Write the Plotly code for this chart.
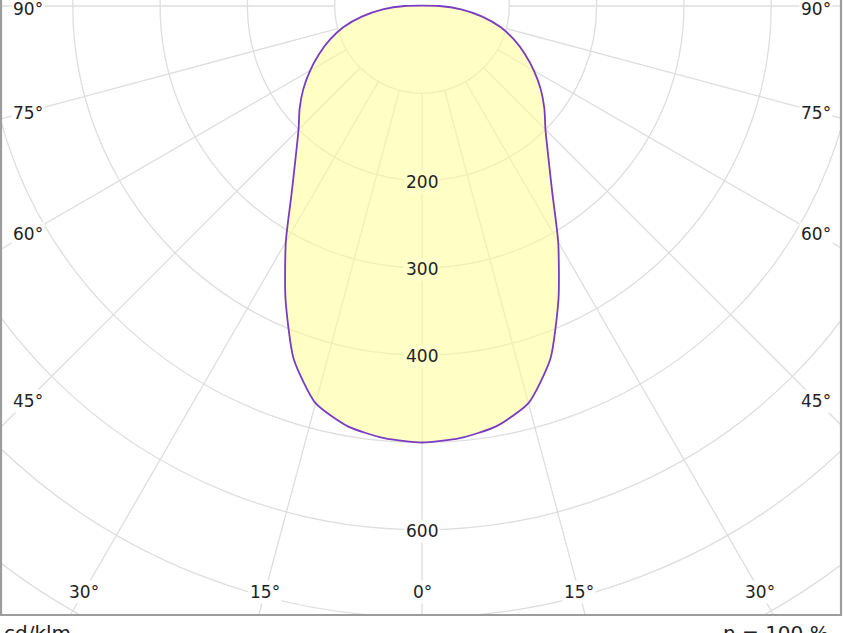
import numpy as np
import plotly.graph_objects as go

# ---------------- data ----------------
angles = [0, 5, 10, 15, 20, 25, 30, 35, 40, 45, 50, 55, 60, 65, 70, 75, 80, 85, 90]
intensity = [500, 497, 489, 471, 430, 370, 312, 260, 225, 200, 183, 166, 148, 130, 112, 93, 70, 45, 20]

ring_values = [100, 200, 300, 400, 500, 600, 700, 800, 900]
ring_labels = [200, 300, 400, 600]
spoke_angles = [0, 15, 30, 45, 60, 75, 90]
side_tick_angles = [45, 60, 75, 90]
bottom_tick_angles = [0, 15, 30]
unit_label = "cd/klm"
eff_label = "η = 100 %"

# ---------------- layout geometry ----------------
W, H = 844, 633
ML, MR, MT, MB = 0, 2, 0, 17
pw, ph = W - ML - MR, H - MT - MB
cx_px, cy_px = 422, 6          # polar centre in plot-area pixels
s = 0.873                      # pixels per cd/klm
xr = [(0 - cx_px) / s, (pw - cx_px) / s]
yr = [-(ph - cy_px) / s, cy_px / s]

grid_col = "#dedede"
fill_col = "rgba(255,255,150,0.55)"
label_bg_in = "rgb(255,255,202)"
curve_col = "#7a3cc2"
txt_col = "#222222"
font_fam = "DejaVu Sans"

# ---------------- curve ----------------
th = np.array([-a for a in angles[::-1]] + angles[1:], dtype=float)
ii = np.array(intensity[::-1] + intensity[1:], dtype=float)
th = np.append(th, th[0])
ii = np.append(ii, ii[0])
xs = ii * np.sin(np.radians(th))
ys = -ii * np.cos(np.radians(th))

fig = go.Figure()
fig.add_trace(go.Scatter(x=xs, y=ys, mode="lines", fill="toself",
                         fillcolor=fill_col,
                         line=dict(color=curve_col, width=1.8, shape="spline", smoothing=0.6),
                         hoverinfo="skip", showlegend=False))

shapes = []
# rings
for r in ring_values:
    shapes.append(dict(type="circle", xref="x", yref="y", x0=-r, x1=r, y0=-r, y1=r,
                       line=dict(color=grid_col, width=1.3), layer="below"))
# spokes
r0, r1 = ring_values[0], 2000
for a in spoke_angles:
    for sgn in ([1] if a == 0 else [-1, 1]):
        t = np.radians(sgn * a)
        shapes.append(dict(type="line", xref="x", yref="y",
                           x0=r0 * np.sin(t), y0=-r0 * np.cos(t),
                           x1=r1 * np.sin(t), y1=-r1 * np.cos(t),
                           line=dict(color=grid_col, width=1.3), layer="below"))
# frame
fc = "#9c9c9c"
shapes.append(dict(type="line", xref="paper", yref="paper", x0=1 / pw, x1=1 / pw, y0=1.05, y1=1 - 615 / ph,
                   line=dict(color=fc, width=2.2)))
shapes.append(dict(type="line", xref="paper", yref="paper", x0=841 / pw, x1=841 / pw, y0=1.05, y1=1 - 615 / ph,
                   line=dict(color=fc, width=2.2)))
shapes.append(dict(type="line", xref="paper", yref="paper", x0=0, x1=842 / pw, y0=1 - 615 / ph, y1=1 - 615 / ph,
                   line=dict(color=fc, width=2.2)))

annotations = []
lab_font = dict(family=font_fam, size=17, color=txt_col)
# ring value labels
for v in ring_labels:
    inside = v < intensity[0]
    annotations.append(dict(x=0, y=-v, xref="x", yref="y", text=str(v), showarrow=False,
                            font=lab_font, yshift=-1,
                            bgcolor=label_bg_in if inside else "white", borderpad=1))
# side angle labels (centred on their spokes at a fixed distance from the edges)
left_x = (28 - cx_px) / s
right_x = (816 - cx_px) / s
for a in side_tick_angles:
    yv = 0.0 if a == 90 else -abs(left_x) / np.tan(np.radians(a))
    for xv in (left_x, right_x):
        annotations.append(dict(x=xv, y=yv, xref="x", yref="y", text=f"{a}°", showarrow=False,
                                font=lab_font, yshift=-3 if a == 90 else -1,
                                bgcolor="white", borderpad=1))
# bottom angle labels
bot_y = -(592 - cy_px) / s
for a in bottom_tick_angles:
    for sgn in ([1] if a == 0 else [-1, 1]):
        annotations.append(dict(x=sgn * abs(bot_y) * np.tan(np.radians(a)), y=bot_y,
                                xref="x", yref="y", text=f"{a}°", showarrow=False,
                                font=lab_font, bgcolor="white", borderpad=1))
# captions under the frame
cap_font = dict(family=font_fam, size=20, color=txt_col)
annotations.append(dict(x=2 / pw, y=1 - 619 / ph, xref="paper", yref="paper", text=unit_label,
                        xanchor="left", yanchor="top", showarrow=False, font=cap_font))
annotations.append(dict(x=831 / pw, y=1 - 619 / ph, xref="paper", yref="paper", text=eff_label,
                        xanchor="right", yanchor="top", showarrow=False, font=cap_font))

fig.update_layout(
    width=W, height=H,
    margin=dict(l=ML, r=MR, t=MT, b=MB, pad=0, autoexpand=False),
    paper_bgcolor="white", plot_bgcolor="white",
    xaxis=dict(range=xr, visible=False, fixedrange=True),
    yaxis=dict(range=yr, visible=False, fixedrange=True),
    shapes=shapes, annotations=annotations,
    showlegend=False,
)
fig.write_html("out.html")
